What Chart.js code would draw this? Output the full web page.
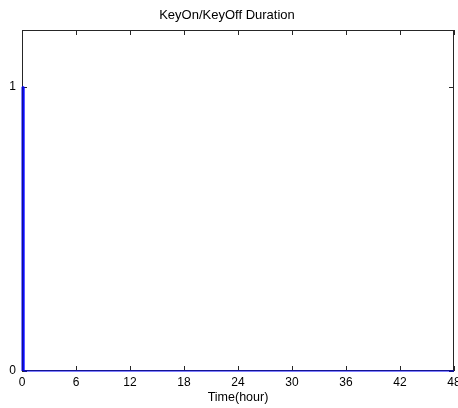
<!DOCTYPE html>
<html>
<head>
<meta charset="utf-8">
<script src="https://cdn.jsdelivr.net/npm/chart.js@4/dist/chart.umd.min.js"></script>
<style>
  html, body { margin: 0; padding: 0; background: #fff; }
  #wrap { width: 458px; height: 408px; }
</style>
</head>
<body>
<div id="wrap"><canvas id="chart" width="458" height="408"></canvas></div>
<script>
// Pulse data: key on at t=0 for a short while, then off for the rest of the window.
const timeHours = [0, 0, 0.2, 0.2, 48];
const keyState = [0, 1, 1, 0, 0];
const xTicks = [0, 6, 12, 18, 24, 30, 36, 42, 48];
const yTicks = [0, 1];

const family = "'Liberation Sans', Arial, sans-serif";
const tickFont = { family: family, size: 12 };
const axisColor = '#262626';

// MATLAB style box with inward ticks on all four sides.
const boxTicks = {
  id: 'boxTicks',
  beforeDatasetsDraw(chart) {
    const { ctx, chartArea: a, scales } = chart;
    const len = 5;
    ctx.save();
    ctx.strokeStyle = axisColor;
    ctx.lineWidth = 1;
    ctx.strokeRect(a.left + 0.5, a.top + 0.5, a.right - a.left - 1, a.bottom - a.top - 1);
    ctx.beginPath();
    for (const v of xTicks) {
      const x = Math.round(scales.x.getPixelForValue(v)) + 0.5;
      ctx.moveTo(x, a.bottom); ctx.lineTo(x, a.bottom - len);
      ctx.moveTo(x, a.top); ctx.lineTo(x, a.top + len);
    }
    for (const v of yTicks) {
      const y = Math.round(scales.y.getPixelForValue(v)) + 0.5;
      ctx.moveTo(a.left, y); ctx.lineTo(a.left + len, y);
      ctx.moveTo(a.right, y); ctx.lineTo(a.right - len, y);
    }
    ctx.stroke();
    ctx.restore();
  },
};

new Chart(document.getElementById('chart'), {
  type: 'line',
  data: {
    datasets: [{
      data: timeHours.map((t, i) => ({ x: t, y: keyState[i] })),
      borderColor: '#0000ff',
      borderWidth: 1,
      pointRadius: 0,
      tension: 0,
      clip: 3,
    }],
  },
  options: {
    responsive: false,
    animation: false,
    layout: { padding: { right: 4 } },
    plugins: {
      legend: { display: false },
      tooltip: { enabled: false },
      title: {
        display: true,
        text: 'KeyOn/KeyOff Duration',
        color: '#000',
        font: { family: family, size: 13, weight: 'normal' },
        padding: { top: 8, bottom: 6.4 },
      },
    },
    scales: {
      x: {
        type: 'linear',
        min: 0,
        max: 48,
        afterBuildTicks: (s) => { s.ticks = xTicks.map((v) => ({ value: v })); },
        afterFit: (s) => { s.height = 37; s.paddingLeft = 0; s.paddingRight = 0; },
        grid: { display: false, drawTicks: false },
        border: { display: false },
        ticks: { color: '#000', font: tickFont, padding: 4, maxRotation: 0, autoSkip: false },
        title: {
          display: true,
          text: 'Time(hour)',
          color: '#000',
          font: { family: family, size: 12.5 },
          padding: { top: 0, bottom: 2.5 },
        },
      },
      y: {
        type: 'linear',
        min: 0,
        max: 1.2,
        afterBuildTicks: (s) => { s.ticks = yTicks.map((v) => ({ value: v })); },
        afterFit: (s) => { s.width = 22; s.paddingTop = 0; s.paddingBottom = 0; },
        grid: { display: false, drawTicks: false },
        border: { display: false },
        ticks: { color: '#000', font: tickFont, padding: 6 },
      },
    },
  },
  plugins: [boxTicks],
});
</script>
</body>
</html>
